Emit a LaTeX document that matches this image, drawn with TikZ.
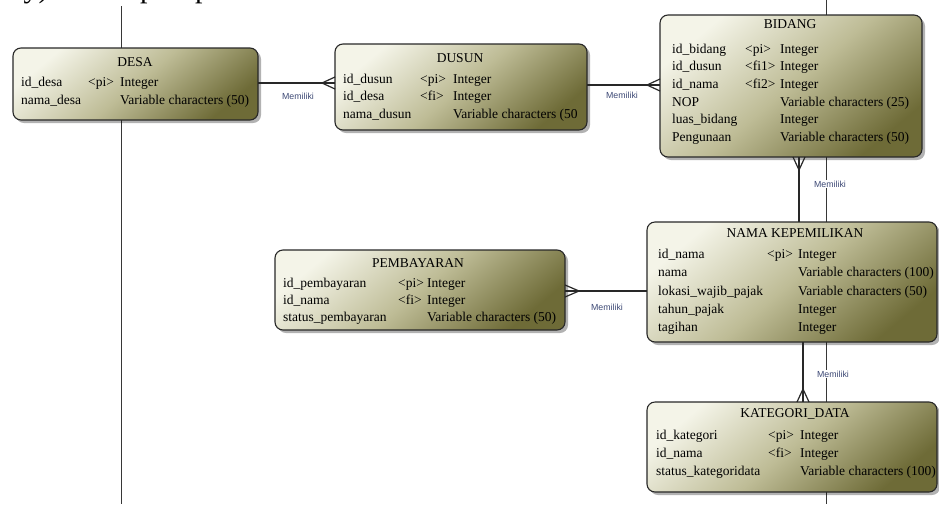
\documentclass[tikz,border=0pt]{standalone}
\usepackage{fontspec}
\setmainfont{Liberation Serif}
\newfontfamily\lblfont{Liberation Sans}
\usetikzlibrary{shadows,calc}
\definecolor{boxlight}{RGB}{244,244,232}
\definecolor{boxmid}{RGB}{190,188,150}
\definecolor{boxdark}{RGB}{110,107,55}
\definecolor{lblcol}{RGB}{62,74,118}
\definecolor{rulecol}{RGB}{55,55,55}
\definecolor{edgecol}{RGB}{40,40,40}
\tikzset{
  tbl/.style={draw=edgecol, line width=1.1pt, rounded corners=8pt, inner sep=0pt, outer sep=0pt,
    top color=boxlight, bottom color=boxdark, middle color=boxmid, shading angle=40,
    drop shadow={shadow xshift=3pt, shadow yshift=-3pt, fill=black, opacity=0.3}},
  fld/.style={anchor=base west, inner sep=0pt, font=\fontsize{13.5}{16}\selectfont},
  ttl/.style={anchor=base, inner sep=0pt, font=\fontsize{13.5}{16}\selectfont},
  lbl/.style={inner sep=1pt, fill=white, text=lblcol, font=\lblfont\fontsize{8.8}{10}\selectfont},
  rel/.style={draw=edgecol, line width=1.2pt},
  pageline/.style={draw=rulecol, line width=0.9pt}
}
\begin{document}
\begin{tikzpicture}[x=1pt, y=-1pt]
\useasboundingbox (0,0) rectangle (939,504);
\clip (0,0) rectangle (939,504);
\fill[white] (0,0) rectangle (939,504);

% cut-off document text at the top
\node[anchor=base west, inner sep=0pt, font=\fontsize{30}{32}\selectfont] (toptext) at (-5,-2.5) {key) dari tiap-tiap tabel.};

% page margin lines
\draw[pageline] (121,6) -- (121,504);
\draw[pageline] (826,0) -- (826,504);

% tables
\node[tbl, minimum width=245pt, minimum height=72pt] (desa) at (135.5,84) {};
\node[tbl, minimum width=252pt, minimum height=86pt] (dusun) at (461,87) {};
\node[tbl, minimum width=262pt, minimum height=142pt] (bidang) at (791,86) {};
\node[tbl, minimum width=290pt, minimum height=80pt] (pemb) at (420,290) {};
\node[tbl, minimum width=290pt, minimum height=120pt] (nama) at (792,282) {};
\node[tbl, minimum width=290pt, minimum height=90pt] (kat) at (792,447) {};

% DESA
\node[ttl] (desaT) at (135,66) {DESA};
\node[fld] (desa1a) at (21,86) {id\_desa};
\node[fld] (desa1b) at (88,86) {<pi>};
\node[fld] (desa1c) at (120,86) {Integer};
\node[fld] (desa2a) at (21,104) {nama\_desa};
\node[fld] (desa2c) at (120,104) {Variable characters (50)};

% DUSUN
\node[ttl] (dusunT) at (460,62) {DUSUN};
\node[fld] (dus1a) at (343,83) {id\_dusun};
\node[fld] (dus1b) at (420,83) {<pi>};
\node[fld] (dus1c) at (453,83) {Integer};
\node[fld] (dus2a) at (343,100.5) {id\_desa};
\node[fld] (dus2b) at (420,100.5) {<fi>};
\node[fld] (dus2c) at (453,100.5) {Integer};
\node[fld] (dus3a) at (343,118) {nama\_dusun};
\node[fld] (dus3c) at (453,118) {Variable characters (50};

% BIDANG
\node[ttl] (bidT) at (790,28) {BIDANG};
\node[fld] (bid1a) at (672,53) {id\_bidang};
\node[fld] (bid1b) at (745,53) {<pi>};
\node[fld] (bid1c) at (780,53) {Integer};
\node[fld] (bid2a) at (672,70.7) {id\_dusun};
\node[fld] (bid2b) at (745,70.7) {<fi1>};
\node[fld] (bid2c) at (780,70.7) {Integer};
\node[fld] (bid3a) at (672,88.4) {id\_nama};
\node[fld] (bid3b) at (745,88.4) {<fi2>};
\node[fld] (bid3c) at (780,88.4) {Integer};
\node[fld] (bid4a) at (672,106.1) {NOP};
\node[fld] (bid4c) at (780,106.1) {Variable characters (25)};
\node[fld] (bid5a) at (672,123.8) {luas\_bidang};
\node[fld] (bid5c) at (780,123.8) {Integer};
\node[fld] (bid6a) at (672,141.5) {Pengunaan};
\node[fld] (bid6c) at (780,141.5) {Variable characters (50)};

% PEMBAYARAN
\node[ttl] (pembT) at (418,267) {PEMBAYARAN};
\node[fld] (pem1a) at (283,287) {id\_pembayaran};
\node[fld] (pem1b) at (398,287) {<pi>};
\node[fld] (pem1c) at (427,287) {Integer};
\node[fld] (pem2a) at (283,304) {id\_nama};
\node[fld] (pem2b) at (398,304) {<fi>};
\node[fld] (pem2c) at (427,304) {Integer};
\node[fld] (pem3a) at (283,321) {status\_pembayaran};
\node[fld] (pem3c) at (427,321) {Variable characters (50)};

% NAMA KEPEMILIKAN
\node[ttl] (namaT) at (795,237) {NAMA KEPEMILIKAN};
\node[fld] (nam1a) at (658,258) {id\_nama};
\node[fld] (nam1b) at (767,258) {<pi>};
\node[fld] (nam1c) at (798,258) {Integer};
\node[fld] (nam2a) at (658,276.5) {nama};
\node[fld] (nam2c) at (798,276.5) {Variable characters (100)};
\node[fld] (nam3a) at (658,295) {lokasi\_wajib\_pajak};
\node[fld] (nam3c) at (798,295) {Variable characters (50)};
\node[fld] (nam4a) at (658,313) {tahun\_pajak};
\node[fld] (nam4c) at (798,313) {Integer};
\node[fld] (nam5a) at (658,331) {tagihan};
\node[fld] (nam5c) at (798,331) {Integer};

% KATEGORI_DATA
\node[ttl] (katT) at (795,417) {KATEGORI\_DATA};
\node[fld] (kat1a) at (656,439) {id\_kategori};
\node[fld] (kat1b) at (768,439) {<pi>};
\node[fld] (kat1c) at (800,439) {Integer};
\node[fld] (kat2a) at (656,457) {id\_nama};
\node[fld] (kat2b) at (768,457) {<fi>};
\node[fld] (kat2c) at (800,457) {Integer};
\node[fld] (kat3a) at (656,475) {status\_kategoridata};
\node[fld] (kat3c) at (800,475) {Variable characters (100)};

% relationships
% DESA - DUSUN
\draw[rel] (desa.east|-0,83) -- (dusun.west|-0,83);
\draw[rel] (dusun.west|-0,77) -- ($(dusun.west|-0,83)+(-13,0)$) -- (dusun.west|-0,89);
\node[lbl] (m1) at (298,96) {Memiliki};

% DUSUN - BIDANG
\draw[rel] (dusun.east|-0,85) -- (bidang.west|-0,85);
\draw[rel] (bidang.west|-0,79) -- ($(bidang.west|-0,85)+(-13,0)$) -- (bidang.west|-0,91);
\node[lbl] (m2) at (622,95) {Memiliki};

% BIDANG - NAMA
\draw[rel] (bidang.south-|799,0) -- (nama.north-|799,0);
\draw[rel] (bidang.south-|793,0) -- ($(bidang.south-|799,0)+(0,13)$) -- (bidang.south-|805,0);
\node[lbl] (m3) at (830,184) {Memiliki};

% PEMBAYARAN - NAMA
\draw[rel] (pemb.east|-0,291) -- (nama.west|-0,291);
\draw[rel] (pemb.east|-0,285) -- ($(pemb.east|-0,291)+(14,0)$) -- (pemb.east|-0,297);
\node[lbl] (m4) at (607,307) {Memiliki};

% NAMA - KATEGORI
\draw[rel] (nama.south-|803,0) -- (kat.north-|803,0);
\draw[rel] (kat.north-|797,0) -- ($(kat.north-|803,0)+(0,-13)$) -- (kat.north-|809,0);
\node[lbl] (m5) at (833,374) {Memiliki};
\end{tikzpicture}
\end{document}
